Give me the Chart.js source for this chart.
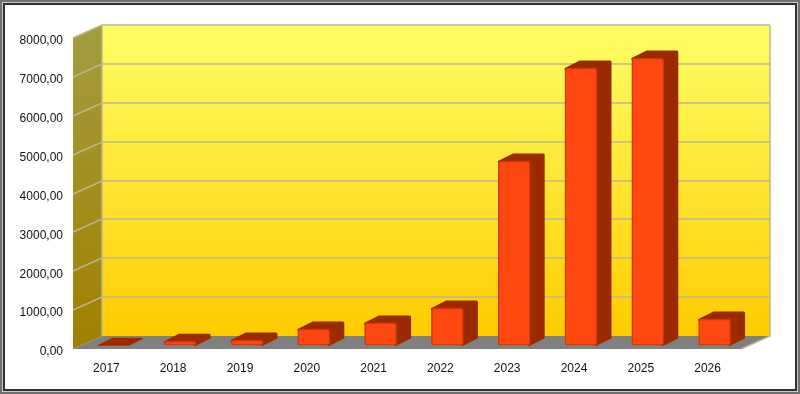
<!DOCTYPE html>
<html>
<head>
<meta charset="utf-8">
<style>
html, body { margin: 0; padding: 0; background: #fff; }
#wrap { position: absolute; left: 0; top: 0; width: 800px; height: 394px; }
</style>
<script src="https://cdn.jsdelivr.net/npm/chart.js@4"></script>
</head>
<body>
<div id="wrap"><canvas id="grafica" width="800" height="394"></canvas></div>
<script>
const years = ['2017', '2018', '2019', '2020', '2021', '2022', '2023', '2024', '2025', '2026'];
const totals = [5, 110, 140, 425, 580, 965, 4745, 7137, 7395, 680];
const maxValue = 8000;
const stepValue = 1000;

// profundidad de la pared y de las barras
const wallDx = 29, wallDy = -13;
const barOffDx = 7, barOffDy = -3.5;
const barDx = 14, barDy = -7;

const fondo3d = {
    id: 'fondo3d',
    beforeDatasetsDraw(chart) {
        const c = chart.ctx, a = chart.chartArea, ys = chart.scales.y;
        c.save();
        // marco
        c.fillStyle = '#707070'; c.fillRect(0, 0, 800, 394);
        c.fillStyle = '#c8c8c8'; c.fillRect(2, 2, 796, 390);
        c.fillStyle = '#303030'; c.fillRect(3, 3, 794, 388);
        c.fillStyle = '#fff'; c.fillRect(5, 5, 790, 384);
        c.restore();
        drawTexts(chart);
        c.save();
        // pared del fondo
        let g = c.createLinearGradient(0, a.top + wallDy, 0, a.bottom + wallDy);
        g.addColorStop(0, '#ffff66');
        g.addColorStop(1, '#ffcc00');
        c.fillStyle = g;
        c.fillRect(a.left + wallDx, a.top + wallDy, a.right - a.left, a.bottom - a.top);
        // pared izquierda
        g = c.createLinearGradient(0, a.top + wallDy, 0, a.bottom);
        g.addColorStop(0, '#a39d40');
        g.addColorStop(1, '#a08000');
        c.fillStyle = g;
        c.beginPath();
        c.moveTo(a.left, a.top);
        c.lineTo(a.left + wallDx, a.top + wallDy);
        c.lineTo(a.left + wallDx, a.bottom + wallDy);
        c.lineTo(a.left, a.bottom);
        c.closePath();
        c.fill();
        // suelo
        c.fillStyle = '#808080';
        c.beginPath();
        c.moveTo(a.left, a.bottom);
        c.lineTo(a.left + wallDx, a.bottom + wallDy);
        c.lineTo(a.right + wallDx, a.bottom + wallDy);
        c.lineTo(a.right, a.bottom);
        c.closePath();
        c.fill();
        // rejilla
        c.strokeStyle = '#bdb78c';
        c.lineWidth = 1.5;
        ys.ticks.forEach(t => {
            if (t.value === 0) return;
            const y = Math.round(ys.getPixelForValue(t.value));
            c.beginPath();
            c.moveTo(a.left, y);
            c.lineTo(a.left + wallDx, y + wallDy);
            c.lineTo(a.right + wallDx, y + wallDy);
            c.stroke();
        });
        c.beginPath();
        c.moveTo(a.left + wallDx, a.top + wallDy);
        c.lineTo(a.left + wallDx, a.bottom + wallDy);
        c.moveTo(a.right + wallDx, a.top + wallDy);
        c.lineTo(a.right + wallDx, a.bottom + wallDy);
        c.lineTo(a.right, a.bottom);
        c.stroke();
        c.restore();
    },
    beforeDatasetDraw(chart, args) {
        const c = chart.ctx;
        c.save();
        c.translate(barOffDx, barOffDy);
        // caras lateral y superior de cada barra
        args.meta.data.forEach(bar => {
            const p = bar.getProps(['x', 'y', 'base', 'width'], true);
            const flat = p.base - p.y < 2;
            const inset = flat ? 0 : 1;
            const l = p.x - p.width / 2 + 1, r = p.x + p.width / 2 - 1;
            const top = p.y + inset, bottom = p.base - inset;
            c.fillStyle = '#9c2a00';
            c.strokeStyle = '#9c2a00';
            c.lineJoin = 'round';
            c.lineWidth = flat ? 1 : 3;
            c.beginPath();
            c.moveTo(l, top);
            c.lineTo(l + barDx, top + barDy);
            c.lineTo(r + barDx, top + barDy);
            c.lineTo(r + barDx, bottom + barDy);
            c.lineTo(r, bottom);
            c.lineTo(r, top);
            c.closePath();
            c.fill();
            c.stroke();
        });
    },
    afterDatasetDraw(chart) {
        chart.ctx.restore();
    }
};

// los textos de los ejes se pintan despues del marco
function drawTexts(chart) {
    const c = chart.ctx;
    chart.scales.x.draw(chart.chartArea);
    c.save();
    c.translate(0, 3);
    chart.scales.y.draw(chart.chartArea);
    c.restore();
}

new Chart(document.getElementById('grafica').getContext('2d'), {
    type: 'bar',
    data: {
        labels: years,
        datasets: [{
            data: totals,
            backgroundColor: '#ff4810',
            borderColor: '#cf3a08',
            borderWidth: 1.5,
            borderRadius: 3,
            borderSkipped: false,
            barThickness: 32
        }]
    },
    options: {
        responsive: false,
        animation: false,
        layout: { padding: { top: 38, right: 59, left: 0, bottom: 0 } },
        plugins: { legend: { display: false }, tooltip: { enabled: false } },
        scales: {
            x: {
                grid: { display: false, drawTicks: false },
                border: { display: false },
                ticks: { color: '#111', padding: 12, maxRotation: 0, font: { family: 'Liberation Sans', size: 12 } },
                afterFit(s) { s.height = 45; }
            },
            y: {
                min: 0,
                max: maxValue,
                grid: { display: false, drawTicks: false },
                border: { display: false },
                ticks: {
                    stepSize: stepValue,
                    color: '#111',
                    padding: 10,
                    font: { family: 'Liberation Sans', size: 12 },
                    callback: v => v.toFixed(2).replace('.', ',')
                },
                afterFit(s) { s.width = 73; }
            }
        }
    },
    plugins: [fondo3d]
});
</script>
</body>
</html>
